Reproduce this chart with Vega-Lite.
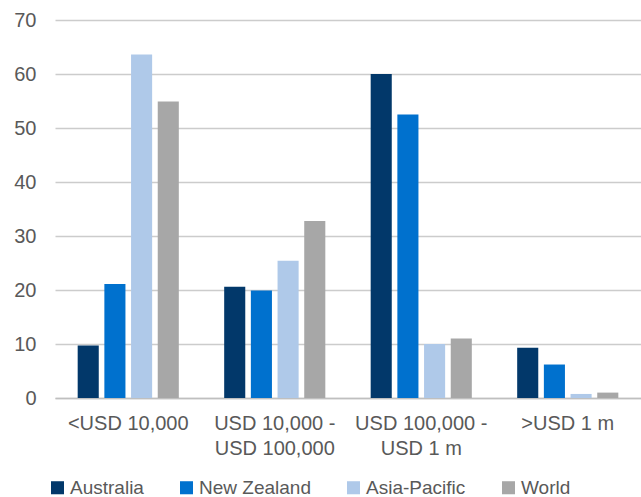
{
  "$schema": "https://vega.github.io/schema/vega-lite/v6.json",
  "width": 586,
  "height": 378,
  "autosize": {"type": "none"},
  "padding": {"left": 55, "top": 20, "right": 0, "bottom": 99},
  "background": "white",
  "data": {
    "values": [
      {"band": "<USD 10,000", "region": "Australia", "value": 9.7},
      {"band": "<USD 10,000", "region": "New Zealand", "value": 21.1},
      {"band": "<USD 10,000", "region": "Asia-Pacific", "value": 63.6},
      {"band": "<USD 10,000", "region": "World", "value": 54.9},
      {"band": "USD 10,000 -\nUSD 100,000", "region": "Australia", "value": 20.6},
      {"band": "USD 10,000 -\nUSD 100,000", "region": "New Zealand", "value": 19.9},
      {"band": "USD 10,000 -\nUSD 100,000", "region": "Asia-Pacific", "value": 25.4},
      {"band": "USD 10,000 -\nUSD 100,000", "region": "World", "value": 32.8},
      {"band": "USD 100,000 -\nUSD 1 m", "region": "Australia", "value": 60.0},
      {"band": "USD 100,000 -\nUSD 1 m", "region": "New Zealand", "value": 52.5},
      {"band": "USD 100,000 -\nUSD 1 m", "region": "Asia-Pacific", "value": 10.0},
      {"band": "USD 100,000 -\nUSD 1 m", "region": "World", "value": 11.0},
      {"band": ">USD 1 m", "region": "Australia", "value": 9.3},
      {"band": ">USD 1 m", "region": "New Zealand", "value": 6.2},
      {"band": ">USD 1 m", "region": "Asia-Pacific", "value": 0.75},
      {"band": ">USD 1 m", "region": "World", "value": 1.0}
    ]
  },
  "config": {
    "view": {"stroke": null},
    "font": "Liberation Sans",
    "axis": {"labelFont": "Liberation Sans", "labelColor": "#595959"},
    "legend": {"labelFont": "Liberation Sans", "labelColor": "#595959"}
  },
  "mark": {"type": "bar"},
  "encoding": {
    "x": {
      "field": "band",
      "type": "nominal",
      "sort": ["<USD 10,000", "USD 10,000 -\nUSD 100,000", "USD 100,000 -\nUSD 1 m", ">USD 1 m"],
      "scale": {"paddingInner": 0, "paddingOuter": 0},
      "axis": {
        "title": null,
        "labelAngle": 0,
        "labelExpr": "split(datum.label, '\\n')",
        "labelFontSize": 20,
        "labelLineHeight": 25,
        "labelPadding": 15,
        "ticks": false,
        "domain": true,
        "domainColor": "#bfbfbf",
        "domainWidth": 1.5
      }
    },
    "xOffset": {
      "field": "region",
      "type": "nominal",
      "sort": ["Australia", "New Zealand", "Asia-Pacific", "World"],
      "scale": {"paddingInner": 0.21, "paddingOuter": 0.85}
    },
    "y": {
      "field": "value",
      "type": "quantitative",
      "scale": {"domain": [0, 70]},
      "axis": {
        "title": null,
        "values": [0, 10, 20, 30, 40, 50, 60, 70],
        "labelFontSize": 20,
        "labelPadding": 19,
        "ticks": false,
        "domain": false,
        "grid": true,
        "gridColor": "#cccccc",
        "gridWidth": 1.5
      }
    },
    "color": {
      "field": "region",
      "type": "nominal",
      "sort": ["Australia", "New Zealand", "Asia-Pacific", "World"],
      "scale": {
        "domain": ["Australia", "New Zealand", "Asia-Pacific", "World"],
        "range": ["#02386a", "#0071ce", "#afc9e9", "#a7a7a7"]
      },
      "legend": {
        "title": null,
        "orient": "none",
        "legendX": -7,
        "legendY": 458,
        "direction": "horizontal",
        "symbolType": "square",
        "symbolSize": 170,
        "symbolStrokeWidth": 0,
        "labelFontSize": 19,
        "labelOffset": 3,
        "columnPadding": 33
      }
    }
  }
}
